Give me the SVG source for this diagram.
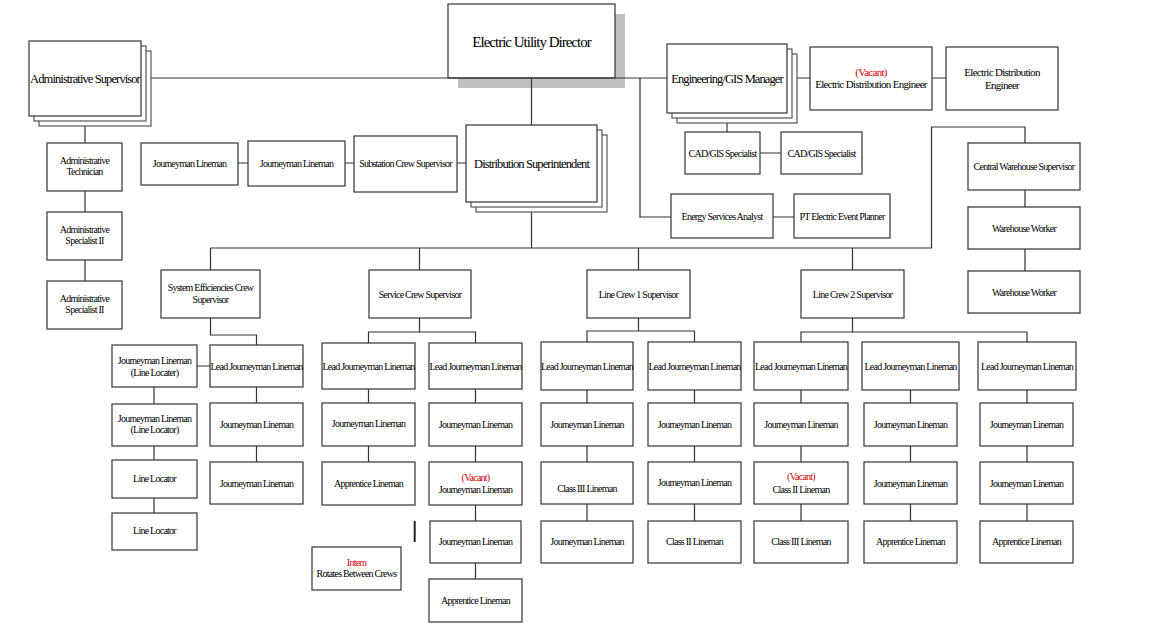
<svg xmlns="http://www.w3.org/2000/svg" width="1156" height="631" viewBox="0 0 1156 631" font-family="'Liberation Serif', serif">
<style>
.b{fill:#fff;stroke:#333;stroke-width:1.2}
.s{fill:#fff;stroke:#555;stroke-width:1.2}
.c{fill:none;stroke:#333;stroke-width:1.2}
text{font-family:'Liberation Serif',serif;text-anchor:middle;fill:#000}
.t{font-size:10px;letter-spacing:-0.75px}
.m{font-size:11px;letter-spacing:-0.7px}
.l{font-size:12.5px;letter-spacing:-0.9px}
.x{font-size:15px;letter-spacing:-1px}
.r{fill:#d40000}
</style>
<rect width="1156" height="631" fill="#fff"/>
<g id="director">
<rect x="458" y="14" width="167" height="74" fill="#c0c0c0"/>
<rect class="b" x="448" y="4" width="167" height="74"/>
<text class="x" x="531.5" y="46.5">Electric Utility Director</text>
</g>
<g id="connectors">
<path class="c" d="M141 78H667M531.5 78V125M640 78V217H671M787 78H810M932 78H946M727 113V132M760 153H781M773 217H794"/>
<path class="c" d="M85 116V143M85 191V212M85 260V281M238 163H248M345 163H354M457 163H466"/>
<path class="c" d="M531.5 202V248M210.5 248H931.5V127H1025V143M210.5 248V270M419.5 248V270M638.5 248V270M852.5 248V270M1025 190V207M1025 249V271"/>
<path class="c" d="M210.5 318V335H256.5V345M256.5 387V403M256.5 446V462M197 366H210M154 387V404M154 446V460M154 498V513"/>
<path class="c" d="M419.5 318V332M368.5 343V332H475.5V343M368.5 389V403M368.5 446V462M475.5 389V403M475.5 446V462M475.5 505V521M475.5 563V579"/>
<path class="c" d="M638.5 318V331M587 342V331H694.5V342M587 390V403M587 446V462M587 504V521M694.5 390V403M694.5 446V462M694.5 504V521"/>
<path class="c" d="M852.5 318V332M801 342V332H1027V342M801 390V403M801 446V462M801 504V521M910.5 390V403M910.5 446V462M910.5 504V521M1027 390V403M1027 446V462M1027 504V521"/>
<path d="M414.7 521V542" fill="none" stroke="#222" stroke-width="2"/>
</g>
<g id="admin-supervisor">
<rect class="s" x="39" y="51" width="112" height="75"/>
<rect class="s" x="34" y="46" width="112" height="75"/>
<rect class="b" x="29" y="41" width="112" height="75"/>
<text class="l" x="85" y="83">Administrative Supervisor</text>
</g>
<g id="engineering-manager">
<rect class="s" x="677" y="54" width="120" height="69"/>
<rect class="s" x="672" y="49" width="120" height="69"/>
<rect class="b" x="667" y="44" width="120" height="69"/>
<text class="l" x="727" y="83">Engineering/GIS Manager</text>
</g>
<g id="distribution-superintendent">
<rect class="s" x="476" y="135" width="131" height="77"/>
<rect class="s" x="471" y="130" width="131" height="77"/>
<rect class="b" x="466" y="125" width="131" height="77"/>
<text class="l" x="531.5" y="168">Distribution Superintendent</text>
</g>
<g id="vacant-ede">
<rect class="b" x="810" y="47" width="122" height="63"/>
<text class="m r" x="871" y="75.5">(Vacant)</text>
<text class="m" x="871" y="88">Electric Distribution Engineer</text>
</g>
<g id="ede">
<rect class="b" x="946" y="47" width="112" height="63"/>
<text class="m" x="1002" y="75.5">Electric Distribution</text>
<text class="m" x="1002" y="88.5">Engineer</text>
</g>
<g id="cad1"><rect class="b" x="685" y="132" width="75" height="42"/><text class="t" x="722.5" y="156.5">CAD/GIS Specialist</text></g>
<g id="cad2"><rect class="b" x="781" y="132" width="81" height="42"/><text class="t" x="821.5" y="156.5">CAD/GIS Specialist</text></g>
<g id="energy"><rect class="b" x="671" y="194" width="102" height="44"/><text class="t" x="722" y="219.5">Energy Services Analyst</text></g>
<g id="pt-planner"><rect class="b" x="794" y="194" width="96" height="44"/><text class="t" x="842" y="219.5">PT Electric Event Planner</text></g>
<g id="warehouse-sup"><rect class="b" x="968" y="143" width="112" height="47"/><text class="t" x="1024" y="170">Central Warehouse Supervisor</text></g>
<g id="warehouse-1"><rect class="b" x="968" y="207" width="112" height="42"/><text class="t" x="1024" y="231.5">Warehouse Worker</text></g>
<g id="warehouse-2"><rect class="b" x="968" y="271" width="112" height="42"/><text class="t" x="1024" y="295.5">Warehouse Worker</text></g>
<g id="admin-tech"><rect class="b" x="47" y="143" width="75" height="48"/><text class="t" x="84.5" y="164">Administrative</text><text class="t" x="84.5" y="175">Technician</text></g>
<g id="admin-spec-1"><rect class="b" x="47" y="212" width="75" height="48"/><text class="t" x="84.5" y="233">Administrative</text><text class="t" x="84.5" y="244">Specialist II</text></g>
<g id="admin-spec-2"><rect class="b" x="47" y="281" width="75" height="48"/><text class="t" x="84.5" y="302">Administrative</text><text class="t" x="84.5" y="313">Specialist II</text></g>
<g id="sub-jl1"><rect class="b" x="141" y="143" width="97" height="42"/><text class="t" x="189.5" y="167">Journeyman Lineman</text></g>
<g id="sub-jl2"><rect class="b" x="248" y="141" width="97" height="45"/><text class="t" x="296.5" y="167">Journeyman Lineman</text></g>
<g id="substation"><rect class="b" x="354" y="136" width="103" height="56"/><text class="t" x="405.5" y="167">Substation Crew Supervisor</text></g>
<g id="sys-eff"><rect class="b" x="161" y="270" width="99" height="48"/><text class="t" x="210.5" y="290.5">System Efficiencies Crew</text><text class="t" x="210.5" y="302.5">Supervisor</text></g>
<g id="service"><rect class="b" x="369" y="270" width="102" height="48"/><text class="t" x="420" y="297.5">Service Crew Supervisor</text></g>
<g id="line-crew-1"><rect class="b" x="587" y="270" width="103" height="48"/><text class="t" x="638.5" y="297.5">Line Crew 1 Supervisor</text></g>
<g id="line-crew-2"><rect class="b" x="801" y="270" width="103" height="48"/><text class="t" x="852.5" y="297.5">Line Crew 2 Supervisor</text></g>
<g id="se-loc1"><rect class="b" x="112" y="345" width="85" height="42"/><text class="t" x="154.5" y="364">Journeyman Lineman</text><text class="t" x="154.5" y="375.5">(Line Locater)</text></g>
<g id="se-loc2"><rect class="b" x="112" y="404" width="85" height="42"/><text class="t" x="154.5" y="421.5">Journeyman Lineman</text><text class="t" x="154.5" y="433">(Line Locator)</text></g>
<g id="se-loc3"><rect class="b" x="112" y="460" width="85" height="38"/><text class="t" x="154.5" y="482">Line Locator</text></g>
<g id="se-loc4"><rect class="b" x="112" y="513" width="85" height="37"/><text class="t" x="154.5" y="534">Line Locator</text></g>
<g id="se-lead"><rect class="b" x="210" y="345" width="93" height="42"/><text class="t" x="256.5" y="369.5">Lead Journeyman Lineman</text></g>
<g id="se-jl1"><rect class="b" x="210" y="403" width="93" height="43"/><text class="t" x="256.5" y="428">Journeyman Lineman</text></g>
<g id="se-jl2"><rect class="b" x="210" y="462" width="93" height="42"/><text class="t" x="256.5" y="486.5">Journeyman Lineman</text></g>
<g id="sv1-lead"><rect class="b" x="322" y="343" width="93" height="46"/><text class="t" x="368.5" y="369.5">Lead Journeyman Lineman</text></g>
<g id="sv1-jl"><rect class="b" x="322" y="403" width="93" height="43"/><text class="t" x="368.5" y="427">Journeyman Lineman</text></g>
<g id="sv1-app"><rect class="b" x="322" y="462" width="93" height="43"/><text class="t" x="368.5" y="486.5">Apprentice  Lineman</text></g>
<g id="sv2-lead"><rect class="b" x="429" y="343" width="93" height="46"/><text class="t" x="475.5" y="369.5">Lead Journeyman Lineman</text></g>
<g id="sv2-jl"><rect class="b" x="429" y="403" width="93" height="43"/><text class="t" x="475.5" y="428">Journeyman Lineman</text></g>
<g id="sv2-vac"><rect class="b" x="429" y="462" width="93" height="43"/><text class="t r" x="475.5" y="481">(Vacant)</text><text class="t" x="475.5" y="493">Journeyman Lineman</text></g>
<g id="sv2-jl2"><rect class="b" x="430" y="521" width="91" height="42"/><text class="t" x="475.5" y="545">Journeyman Lineman</text></g>
<g id="sv2-app"><rect class="b" x="429" y="579" width="93" height="43"/><text class="t" x="475.5" y="603.5">Apprentice Lineman</text></g>
<g id="intern"><rect class="b" x="312" y="547" width="89" height="43"/><text class="t r" x="356.5" y="566">Intern</text><text class="t" x="356.5" y="577">Rotates Between Crews</text></g>
<g id="lc1a-lead"><rect class="b" x="541" y="342" width="92" height="48"/><text class="t" x="587" y="369.5">Lead Journeyman Lineman</text></g>
<g id="lc1a-jl"><rect class="b" x="541" y="403" width="92" height="43"/><text class="t" x="587" y="428">Journeyman Lineman</text></g>
<g id="lc1a-c3"><rect class="b" x="541" y="462" width="92" height="42"/><text class="t" x="587" y="492">Class III Lineman</text></g>
<g id="lc1a-jl2"><rect class="b" x="541" y="521" width="92" height="42"/><text class="t" x="587" y="545">Journeyman Lineman</text></g>
<g id="lc1b-lead"><rect class="b" x="648" y="342" width="93" height="48"/><text class="t" x="694.5" y="369.5">Lead Journeyman Lineman</text></g>
<g id="lc1b-jl"><rect class="b" x="648" y="403" width="93" height="43"/><text class="t" x="694.5" y="428">Journeyman Lineman</text></g>
<g id="lc1b-jl2"><rect class="b" x="648" y="462" width="93" height="42"/><text class="t" x="694.5" y="486">Journeyman Lineman</text></g>
<g id="lc1b-c2"><rect class="b" x="648" y="521" width="93" height="42"/><text class="t" x="694.5" y="545">Class II Lineman</text></g>
<g id="lc2a-lead"><rect class="b" x="754" y="342" width="94" height="48"/><text class="t" x="801" y="369.5">Lead Journeyman Lineman</text></g>
<g id="lc2a-jl"><rect class="b" x="754" y="403" width="94" height="43"/><text class="t" x="801" y="428">Journeyman Lineman</text></g>
<g id="lc2a-vac"><rect class="b" x="754" y="462" width="94" height="42"/><text class="t r" x="801" y="480">(Vacant)</text><text class="t" x="801" y="493">Class II  Lineman</text></g>
<g id="lc2a-c3"><rect class="b" x="754" y="521" width="94" height="42"/><text class="t" x="801" y="545">Class III Lineman</text></g>
<g id="lc2b-lead"><rect class="b" x="862" y="342" width="97" height="48"/><text class="t" x="910.5" y="369.5">Lead Journeyman Lineman</text></g>
<g id="lc2b-jl"><rect class="b" x="864" y="403" width="93" height="43"/><text class="t" x="910.5" y="428">Journeyman Lineman</text></g>
<g id="lc2b-jl2"><rect class="b" x="864" y="462" width="93" height="42"/><text class="t" x="910.5" y="486.5">Journeyman Lineman</text></g>
<g id="lc2b-app"><rect class="b" x="864" y="521" width="93" height="42"/><text class="t" x="910.5" y="545">Apprentice Lineman</text></g>
<g id="lc2c-lead"><rect class="b" x="978" y="342" width="98" height="48"/><text class="t" x="1027" y="369.5">Lead Journeyman Lineman</text></g>
<g id="lc2c-jl"><rect class="b" x="980" y="403" width="93" height="43"/><text class="t" x="1026.5" y="428">Journeyman Lineman</text></g>
<g id="lc2c-jl2"><rect class="b" x="980" y="462" width="93" height="42"/><text class="t" x="1026.5" y="486.5">Journeyman Lineman</text></g>
<g id="lc2c-app"><rect class="b" x="980" y="521" width="93" height="42"/><text class="t" x="1026.5" y="545">Apprentice Lineman</text></g>
</svg>
